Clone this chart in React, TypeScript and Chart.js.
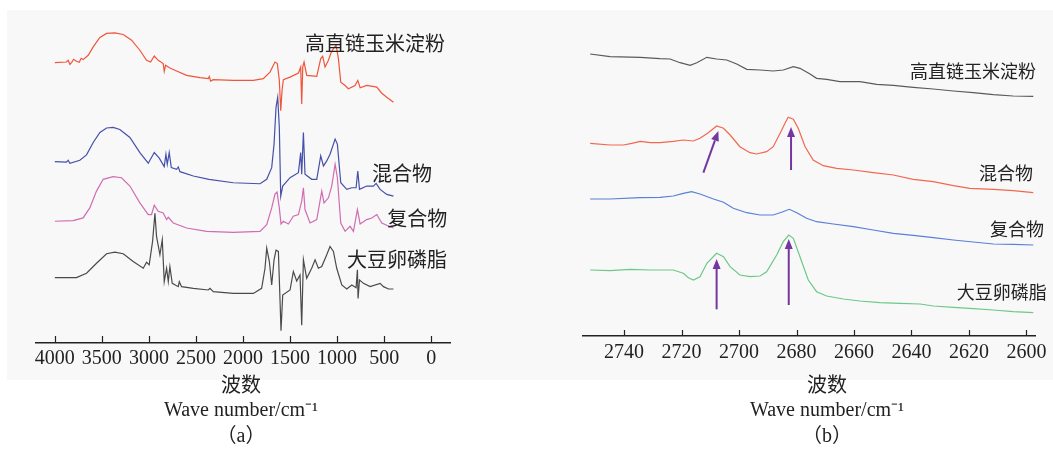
import React, { useEffect, useRef } from "react";
import { Chart, registerables } from "chart.js";

Chart.register(...registerables);

// ---------- Panel (a): full FTIR spectra, [wavenumber cm^-1, transmittance (a.u., offset)] ----------
const starchA: [number, number][] = [
  [4000, 278.7], [3876, 279.3], [3858, 281], [3840, 277], [3820, 279], [3800, 282], [3770, 280], [3740, 279],
  [3720, 283], [3699, 281.7], [3645, 286], [3592, 294.3], [3521, 303.7], [3450, 307.7], [3362, 308.3],
  [3273, 306.7], [3184, 301], [3096, 291], [3025, 281], [2982, 279.3], [2943, 285.3], [2901, 281],
  [2848, 277.7], [2837, 270], [2823, 276], [2777, 273.3], [2706, 270.3], [2599, 266], [2458, 263.7],
  [2369, 262.7], [2358, 265], [2344, 260.3], [2316, 261.7], [2103, 261], [1890, 261], [1784, 262.7],
  [1713, 269.3], [1660, 279.3], [1635, 277.7], [1614, 261], [1599, 231], [1585, 251], [1571, 261.7],
  [1500, 264.3], [1411, 268.3], [1387, 274.3], [1376, 237.7], [1365, 274.3], [1351, 279.3], [1323, 266],
  [1216, 265], [1174, 282.7], [1153, 285], [1128, 274.3], [1092, 281], [1067, 287.7], [1039, 292.7],
  [1011, 296], [986, 282.7], [961, 259.3], [915, 256], [880, 252.7], [809, 256], [780, 261], [755, 253.7],
  [685, 256], [578, 254.3], [525, 248.3], [472, 244.3], [401, 239.3],
];
const mixA: [number, number][] = [
  [4000, 180.3], [3876, 179.7], [3858, 181.7], [3840, 178.7], [3734, 181.7], [3663, 187], [3592, 199.3],
  [3521, 209.3], [3450, 213.7], [3380, 214.3], [3309, 212.3], [3202, 204.3], [3096, 189.3], [3007, 178.7],
  [2943, 189.3], [2890, 183.7], [2837, 175.3], [2819, 187.7], [2805, 177.7], [2784, 189.3], [2762, 174.3],
  [2706, 172.7], [2688, 175], [2670, 170.3], [2528, 166], [2362, 162.7], [2103, 159.3], [1819, 158.3],
  [1748, 162.7], [1695, 174.3], [1670, 197.7], [1649, 234.3], [1631, 244.3], [1614, 214.3], [1599, 146],
  [1578, 156], [1500, 164.3], [1411, 169.3], [1387, 189.3], [1376, 167.7], [1358, 209.3], [1341, 167.7],
  [1270, 162.7], [1216, 162.7], [1174, 186], [1145, 176], [1110, 181], [1075, 187.7], [1021, 202.7],
  [997, 197.7], [961, 159.3], [897, 152.7], [844, 154.3], [798, 154.3], [780, 171], [762, 152.7],
  [685, 156], [614, 156], [585, 158.7], [543, 152.7], [472, 147.7], [401, 146],
];
const complexA: [number, number][] = [
  [4000, 121], [3805, 121.7], [3699, 124.3], [3628, 134.3], [3557, 151], [3486, 162.7], [3380, 165.3],
  [3291, 164.3], [3202, 156], [3096, 139.3], [3007, 127.7], [2972, 127.7], [2943, 137], [2901, 131],
  [2848, 129.3], [2812, 122.7], [2794, 125], [2741, 119.3], [2599, 114.3], [2387, 111], [2103, 110],
  [1819, 111], [1748, 117.7], [1695, 134.3], [1660, 148], [1638, 150], [1614, 134.3], [1596, 118.3],
  [1571, 121], [1518, 118.3], [1465, 126], [1411, 127.7], [1376, 141], [1358, 154.3], [1341, 132.7],
  [1287, 119.3], [1216, 122.7], [1163, 151], [1139, 139.3], [1092, 144.3], [1057, 156], [1021, 177.7],
  [997, 164.3], [961, 119.3], [915, 111], [862, 116], [826, 111], [784, 132.7], [755, 118.3], [685, 122.7],
  [631, 124.3], [578, 127.7], [525, 119.3], [472, 117], [401, 114.3],
];
const lecithinA: [number, number][] = [
  [4000, 65], [3770, 65], [3663, 69.3], [3557, 79.3], [3450, 88.7], [3362, 90.3], [3273, 88.7], [3167, 81],
  [3060, 74.3], [3025, 80.3], [2997, 77.7], [2961, 101], [2936, 129], [2919, 106], [2883, 87.7],
  [2858, 102.7], [2837, 61], [2812, 74.3], [2794, 61], [2777, 76], [2752, 59.3], [2688, 56], [2677, 61],
  [2653, 56], [2528, 54.3], [2369, 52.7], [2351, 54.3], [2316, 51], [2103, 49.3], [1890, 49.3],
  [1802, 54.3], [1766, 74.3], [1748, 94.3], [1720, 81], [1695, 57.7], [1670, 82.7], [1649, 92.3],
  [1624, 91], [1606, 41], [1596, 12.3], [1578, 47.7], [1500, 52.7], [1465, 71], [1429, 61.7], [1394, 67.7],
  [1376, 17.7], [1358, 82.7], [1323, 64.3], [1270, 74.3], [1234, 82.7], [1199, 74.3], [1163, 76],
  [1110, 87.7], [1075, 96], [1039, 91], [1004, 74.3], [950, 57.7], [897, 53.7], [844, 57.7], [798, 55],
  [784, 72.7], [777, 44.3], [762, 62.7], [720, 59.3], [649, 56], [543, 59.3], [507, 56], [454, 53.7],
  [401, 53.7],
];

// ---------- Panel (b): 2750–2600 cm^-1 detail ----------
const starchB: [number, number][] = [
  [2751.8, 282], [2744.9, 279.3], [2734.4, 278.7], [2727.5, 277.3], [2724.0, 277], [2720.5, 273.3],
  [2717.0, 270.7], [2714.7, 273.3], [2711.2, 278.7], [2707.8, 277], [2704.3, 276], [2700.8, 272],
  [2697.3, 266.7], [2692.7, 266], [2688.1, 265], [2684.6, 266], [2681.1, 269.3], [2678.8, 267.7],
  [2675.3, 262], [2673.0, 257.7], [2669.5, 256.7], [2664.9, 254.3], [2657.9, 254.3], [2652.1, 251.7],
  [2646.3, 250.7], [2639.4, 248.7], [2632.4, 247], [2625.4, 245], [2618.5, 243.3], [2611.5, 241.3],
  [2604.6, 240], [2597.6, 239.7],
];
const mixB: [number, number][] = [
  [2751.8, 192.7], [2744.9, 191], [2740.2, 191], [2737.3, 192.7], [2734.4, 194.7], [2730.9, 193.3],
  [2727.5, 193.3], [2722.9, 194.7], [2719.4, 196], [2715.9, 195], [2713.6, 197.7], [2710.7, 203.3],
  [2707.8, 210], [2705.4, 207.7], [2703.1, 201], [2699.7, 189.3], [2696.2, 183.3], [2693.9, 182],
  [2690.4, 184.3], [2688.1, 189.3], [2685.7, 202.7], [2684.0, 212.7], [2682.9, 218.7], [2681.1, 216.7],
  [2679.4, 207.7], [2677.0, 189.3], [2674.2, 176], [2670.7, 170.3], [2666.0, 167.7], [2660.2, 166],
  [2653.3, 163.3], [2646.3, 161], [2639.4, 156.7], [2632.4, 154.3], [2625.4, 150.3], [2619.7, 147.7],
  [2611.5, 146.7], [2604.6, 145.3], [2597.6, 143.3],
];
const complexB: [number, number][] = [
  [2751.8, 137], [2744.9, 137], [2734.4, 138.3], [2727.5, 138.7], [2722.9, 140], [2719.4, 142.7],
  [2716.5, 144.3], [2713.6, 142], [2708.9, 137], [2705.4, 133.7], [2702.0, 127.7], [2697.3, 123.3],
  [2692.7, 121], [2688.1, 121], [2685.2, 123.7], [2682.5, 126.7], [2679.9, 123.3], [2676.5, 117.7],
  [2673.0, 114.3], [2667.2, 112], [2660.2, 109.3], [2653.3, 106], [2646.3, 102.7], [2639.4, 100.7],
  [2632.4, 98.3], [2625.4, 96], [2618.5, 94], [2611.5, 92], [2604.6, 91.7], [2597.6, 91],
];
const lecithinB: [number, number][] = [
  [2751.8, 66], [2744.9, 65.3], [2737.9, 66.7], [2730.9, 66], [2722.9, 66], [2719.4, 62.7], [2717.6, 58.3],
  [2715.9, 56], [2713.6, 59.3], [2711.2, 72.7], [2707.8, 82.7], [2705.4, 79.3], [2703.1, 69.3],
  [2699.7, 61], [2696.2, 59.3], [2692.7, 60], [2690.4, 64.3], [2686.9, 81], [2684.6, 94.3], [2682.7, 101],
  [2681.1, 97.7], [2678.8, 79.3], [2675.9, 56], [2673.0, 44.3], [2669.5, 40], [2663.7, 37], [2657.9, 35],
  [2651.0, 33.3], [2644.0, 32.7], [2637.0, 32], [2632.4, 30], [2625.4, 28.7], [2618.5, 27.3],
  [2611.5, 26], [2604.6, 24.3], [2597.6, 23.3],
];

// tick labels
const ticksA = [4000, 3500, 3000, 2500, 2000, 1500, 1000, 500, 0];
const ticksB = [2740, 2720, 2700, 2680, 2660, 2640, 2620, 2600];

const seriesNames = ["高直链玉米淀粉", "混合物", "复合物", "大豆卵磷脂"];
const captionA = ["波数", "Wave number/cm⁻¹", "（a）"];
const captionB = ["波数", "Wave number/cm⁻¹", "（b）"];

// label anchors in data units
const notesA = [
  { text: seriesNames[0], x: 1340, y: 298 },
  { text: seriesNames[1], x: 628, y: 169 },
  { text: seriesNames[2], x: 468, y: 124 },
  { text: seriesNames[3], x: 894, y: 83 },
];
const notesB = [
  { text: seriesNames[0], x: 2640.5, y: 265 },
  { text: seriesNames[1], x: 2616.5, y: 163 },
  { text: seriesNames[2], x: 2612.7, y: 107 },
  { text: seriesNames[3], x: 2624.2, y: 44 },
];
const arrowsB: { from: [number, number]; to: [number, number] }[] = [
  { from: [2712.4, 163.3], to: [2707.2, 205] },
  { from: [2681.9, 166], to: [2681.9, 209] },
  { from: [2707.8, 26.7], to: [2707.8, 77] },
  { from: [2682.7, 31], to: [2682.7, 97] },
];

const SERIF = "'Liberation Serif', 'Noto Sans CJK SC', serif";
const CJK = "'Noto Sans CJK SC', sans-serif";
const TEXT = "#222";
const AXIS = "#222";

type Series = { label: string; color: string; data: [number, number][] };
type Note = { text: string; x: number; y: number };
type Arrow = { from: [number, number]; to: [number, number] };
type PanelCfg = {
  left: number;
  width: number;
  xMin: number;
  xMax: number;
  ticks: number[];
  yMax: number;
  pad: { left: number; right: number; top: number; bottom: number };
  tickPad: number;
  tickLen: number;
  series: Series[];
  notes: Note[];
  noteSize: number;
  arrows: Arrow[];
  captions: string[];
  captionX: number;
  captionY: number[];
};

const panelA: PanelCfg = {
  left: 0,
  width: 520,
  xMin: -200,
  xMax: 4200,
  ticks: ticksA,
  yMax: 331,
  pad: { left: 36, right: 70, top: 10, bottom: 76 },
  tickPad: 4,
  tickLen: 7,
  series: [
    { label: seriesNames[0], color: "#f0553a", data: starchA },
    { label: seriesNames[1], color: "#4550ab", data: mixA },
    { label: seriesNames[2], color: "#d06cb2", data: complexA },
    { label: seriesNames[3], color: "#4a4a4a", data: lecithinA },
  ],
  notes: notesA,
  noteSize: 20,
  arrows: [],
  captions: captionA,
  captionX: 241,
  captionY: [387, 411, 437],
};

const panelB: PanelCfg = {
  left: 540,
  width: 513,
  xMin: 2597,
  xMax: 2754.3,
  ticks: ticksB,
  yMax: 326,
  pad: { left: 43, right: 18, top: 10, bottom: 81 },
  tickPad: 5,
  tickLen: 6,
  series: [
    { label: seriesNames[0], color: "#5a5a5a", data: starchB },
    { label: seriesNames[1], color: "#f2674f", data: mixB },
    { label: seriesNames[2], color: "#5a7fd8", data: complexB },
    { label: seriesNames[3], color: "#6cc888", data: lecithinB },
  ],
  notes: notesB,
  noteSize: 18,
  arrows: arrowsB,
  captions: captionB,
  captionX: 287,
  captionY: [387, 411, 437],
};

function Panel({ cfg }: { cfg: PanelCfg }) {
  const ref = useRef<HTMLCanvasElement | null>(null);
  useEffect(() => {
    const canvas = ref.current;
    if (!canvas) return;
    const decor = {
      id: "decor",
      afterDatasetsDraw(chart: any) {
        const ctx = chart.ctx as CanvasRenderingContext2D;
        const xs = chart.scales.x;
        const ys = chart.scales.y;
        ctx.save();
        ctx.strokeStyle = "#7436a0";
        ctx.fillStyle = "#7436a0";
        ctx.lineWidth = 2;
        for (const a of cfg.arrows) {
          const x1 = xs.getPixelForValue(a.from[0]);
          const y1 = ys.getPixelForValue(a.from[1]);
          const x2 = xs.getPixelForValue(a.to[0]);
          const y2 = ys.getPixelForValue(a.to[1]);
          const ang = Math.atan2(y2 - y1, x2 - x1);
          const hl = 10;
          const hw = 4;
          const bx = x2 - hl * Math.cos(ang);
          const by = y2 - hl * Math.sin(ang);
          ctx.beginPath();
          ctx.moveTo(x1, y1);
          ctx.lineTo(bx, by);
          ctx.stroke();
          ctx.beginPath();
          ctx.moveTo(x2, y2);
          ctx.lineTo(bx + hw * Math.sin(ang), by - hw * Math.cos(ang));
          ctx.lineTo(bx - hw * Math.sin(ang), by + hw * Math.cos(ang));
          ctx.closePath();
          ctx.fill();
        }
        ctx.fillStyle = TEXT;
        ctx.font = `${cfg.noteSize}px ${CJK}`;
        ctx.textAlign = "left";
        ctx.textBaseline = "middle";
        for (const n of cfg.notes) {
          ctx.fillText(n.text, xs.getPixelForValue(n.x), ys.getPixelForValue(n.y));
        }
        ctx.restore();
      },
      afterDraw(chart: any) {
        const ctx = chart.ctx as CanvasRenderingContext2D;
        const xs = chart.scales.x;
        const bottom = chart.chartArea.bottom;
        ctx.save();
        ctx.strokeStyle = AXIS;
        ctx.lineWidth = 1.2;
        for (const t of xs.ticks) {
          const px = Math.round(xs.getPixelForValue(t.value)) + 0.5;
          ctx.beginPath();
          ctx.moveTo(px, bottom);
          ctx.lineTo(px, bottom - cfg.tickLen);
          ctx.stroke();
        }
        ctx.fillStyle = TEXT;
        ctx.font = `20px ${SERIF}`;
        ctx.textAlign = "center";
        ctx.textBaseline = "middle";
        cfg.captions.forEach((c, i) => ctx.fillText(c, cfg.captionX, cfg.captionY[i]));
        ctx.restore();
      },
    };
    const chart = new Chart(canvas, {
      type: "line",
      data: {
        datasets: cfg.series.map((s) => ({
          label: s.label,
          data: s.data.map(([x, y]) => ({ x, y })),
          borderColor: s.color,
          backgroundColor: s.color,
          borderWidth: 1.2,
          pointRadius: 0,
          tension: 0,
          fill: false,
        })),
      },
      options: {
        responsive: false,
        animation: false,
        devicePixelRatio: 1,
        events: [],
        layout: { padding: cfg.pad },
        plugins: {
          legend: { display: false },
          tooltip: { enabled: false },
          title: { display: false },
        },
        scales: {
          x: {
            type: "linear",
            reverse: true,
            min: cfg.xMin,
            max: cfg.xMax,
            afterBuildTicks: (scale: any) => {
              scale.ticks = cfg.ticks.map((v) => ({ value: v }));
            },
            grid: { display: false, drawTicks: false, tickLength: 0 },
            border: { display: true, color: AXIS, width: 1.5 },
            ticks: {
              autoSkip: false,
              maxRotation: 0,
              padding: cfg.tickPad,
              color: TEXT,
              font: { family: SERIF, size: 20, lineHeight: 1.2 },
              callback: (v: any) => String(v),
            },
          },
          y: { type: "linear", display: false, min: 0, max: cfg.yMax },
        },
      },
      plugins: [decor],
    } as any);
    return () => chart.destroy();
  }, [cfg]);
  return (
    <canvas
      ref={ref}
      width={cfg.width}
      height={451}
      style={{ position: "absolute", left: cfg.left, top: 0, width: cfg.width, height: 451, display: "block" }}
    />
  );
}

export default function App() {
  return (
    <div style={{ position: "fixed", left: 0, top: 0, width: 1053, height: 451, background: "#fff", overflow: "hidden" }}>
      <div style={{ position: "absolute", left: 7, top: 10, width: 1046, height: 370, background: "#f8f8f8" }} />
      <Panel cfg={panelA} />
      <Panel cfg={panelB} />
    </div>
  );
}
